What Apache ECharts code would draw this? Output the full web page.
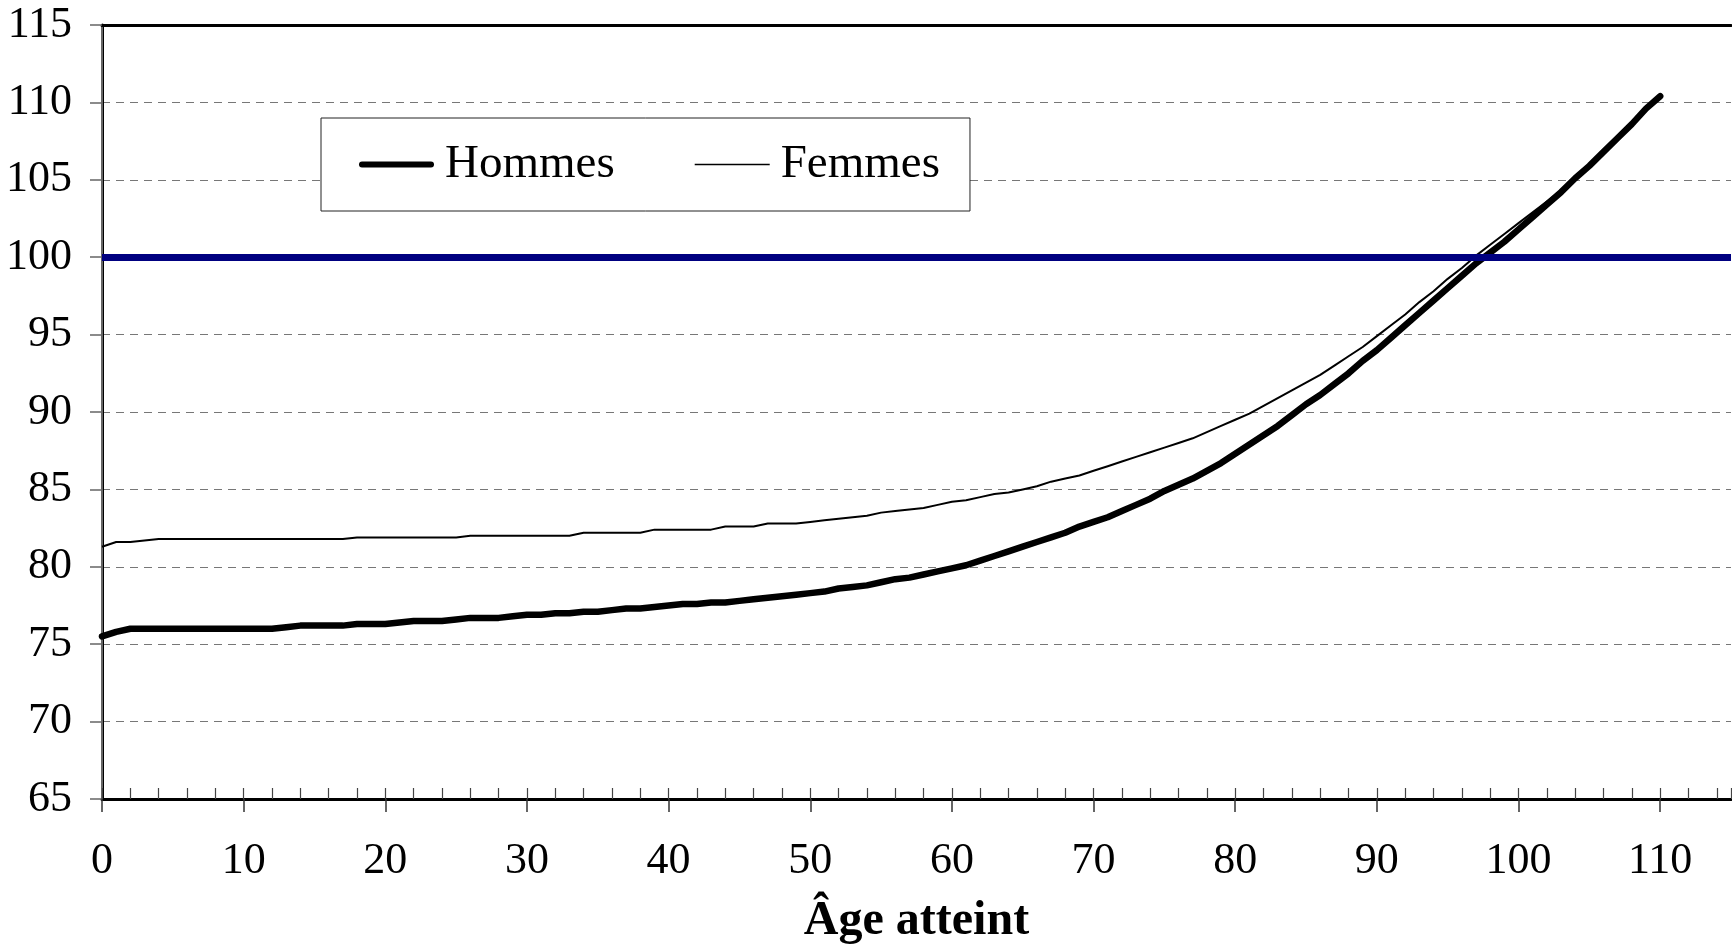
<!DOCTYPE html>
<html>
<head>
<meta charset="utf-8">
<script src="https://cdn.jsdelivr.net/npm/echarts@6/dist/echarts.min.js"></script>
<style>
  html, body { margin: 0; padding: 0; background: #fff; }
  #chart { width: 1732px; height: 951px; }
</style>
</head>
<body>
<div id="chart"></div>
<script>
// valeurs, une par âge (0 à 110)
const hommes = [
  75.5, 75.8, 76.0, 76.0, 76.0, 76.0, 76.0, 76.0, 76.0, 76.0,
  76.0, 76.0, 76.0, 76.1, 76.2, 76.2, 76.2, 76.2, 76.3, 76.3,
  76.3, 76.4, 76.5, 76.5, 76.5, 76.6, 76.7, 76.7, 76.7, 76.8,
  76.9, 76.9, 77.0, 77.0, 77.1, 77.1, 77.2, 77.3, 77.3, 77.4,
  77.5, 77.6, 77.6, 77.7, 77.7, 77.8, 77.9, 78.0, 78.1, 78.2,
  78.3, 78.4, 78.6, 78.7, 78.8, 79.0, 79.2, 79.3, 79.5, 79.7,
  79.9, 80.1, 80.4, 80.7, 81.0, 81.3, 81.6, 81.9, 82.2, 82.6,
  82.9, 83.2, 83.6, 84.0, 84.4, 84.9, 85.3, 85.7, 86.2, 86.7,
  87.3, 87.9, 88.5, 89.1, 89.8, 90.5, 91.1, 91.8, 92.5, 93.3,
  94.0, 94.8, 95.6, 96.4, 97.2, 98.0, 98.8, 99.6, 100.3, 101.0,
  101.8, 102.6, 103.4, 104.2, 105.1, 105.9, 106.8, 107.7, 108.6, 109.6,
  110.4
];
const femmes = [
  81.3, 81.6, 81.6, 81.7, 81.8, 81.8, 81.8, 81.8, 81.8, 81.8,
  81.8, 81.8, 81.8, 81.8, 81.8, 81.8, 81.8, 81.8, 81.9, 81.9,
  81.9, 81.9, 81.9, 81.9, 81.9, 81.9, 82.0, 82.0, 82.0, 82.0,
  82.0, 82.0, 82.0, 82.0, 82.2, 82.2, 82.2, 82.2, 82.2, 82.4,
  82.4, 82.4, 82.4, 82.4, 82.6, 82.6, 82.6, 82.8, 82.8, 82.8,
  82.9, 83.0, 83.1, 83.2, 83.3, 83.5, 83.6, 83.7, 83.8, 84.0,
  84.2, 84.3, 84.5, 84.7, 84.8, 85.0, 85.2, 85.5, 85.7, 85.9,
  86.2, 86.5, 86.8, 87.1, 87.4, 87.7, 88.0, 88.3, 88.7, 89.1,
  89.5, 89.9, 90.4, 90.9, 91.4, 91.9, 92.4, 93.0, 93.6, 94.2,
  94.9, 95.6, 96.3, 97.1, 97.8, 98.6, 99.3, 100.1, 100.8, 101.5,
  102.2, 102.9, 103.6, 104.3, 105.1, 105.9, 106.8, 107.7, 108.6, 109.6,
  110.4
];
const refLine = 100;
const xMin = 0, xMax = 115, yMin = 65, yMax = 115;

const fontFam = "'Liberation Serif', 'Times New Roman', serif";

// icônes de légende : trait épais arrondi / trait fin
const iconEpais = 'path://M3,0 L72,0 A3,3 0 0 1 72,6 L3,6 A3,3 0 0 1 3,0 Z';
const iconFin = 'path://M0,0 L75,0 L75,1.6 L0,1.6 Z';

const chart = echarts.init(document.getElementById('chart'));

const option = {
  animation: false,
  backgroundColor: '#fff',
  grid: { left: 102, right: 1, top: 25, bottom: 142 },
  legend: {
    data: [
      { name: 'Hommes', icon: iconEpais, itemStyle: { color: '#000', borderWidth: 0 } },
      { name: 'Femmes', icon: iconFin, itemStyle: { color: '#000', borderWidth: 0 } }
    ],
    left: 321,
    top: 118,
    orient: 'horizontal',
    padding: [23, 30, 23, 38],
    itemWidth: 75,
    itemHeight: 14,
    itemGap: 80,
    borderColor: '#222',
    borderWidth: 1,
    borderRadius: 0,
    backgroundColor: '#fff',
    selectedMode: false,
    textStyle: { fontFamily: fontFam, fontSize: 47, color: '#000', padding: [0, 0, 0, 6] }
  },
  xAxis: [
    {
      type: 'value', min: xMin, max: xMax, interval: 10, position: 'bottom',
      axisLine: { lineStyle: { color: '#000', width: 3 } },
      axisTick: { show: true, inside: false, length: 13, lineStyle: { color: '#333', width: 1.5 } },
      axisLabel: { fontFamily: fontFam, fontSize: 44, color: '#000', margin: 40, showMaxLabel: false },
      splitLine: { show: false },
      name: 'Âge atteint',
      nameLocation: 'middle',
      nameGap: 99,
      nameTextStyle: { fontFamily: fontFam, fontSize: 48, fontWeight: 'bold', color: '#000' }
    },
    {
      type: 'value', min: xMin, max: xMax, interval: 2, position: 'bottom',
      axisLine: { show: false },
      axisTick: { show: true, inside: true, length: 11, lineStyle: { color: '#444', width: 1.2 } },
      axisLabel: { show: false },
      splitLine: { show: false }
    },
    {
      type: 'value', min: xMin, max: xMax, position: 'top',
      axisLine: { lineStyle: { color: '#000', width: 3 } },
      axisTick: { show: false },
      axisLabel: { show: false },
      splitLine: { show: false }
    }
  ],
  yAxis: [
    {
      type: 'value', min: yMin, max: yMax, interval: 5, position: 'left',
      axisLine: { show: true, lineStyle: { color: '#000', width: 3 } },
      axisTick: { show: true, inside: false, length: 12, lineStyle: { color: '#666', width: 1.5 } },
      axisLabel: { fontFamily: fontFam, fontSize: 44, color: '#000', margin: 30 },
      splitLine: { show: true, lineStyle: { color: '#777', width: 1.2, type: [8, 6] } }
    },
    {
      type: 'value', min: yMin, max: yMax, position: 'right',
      axisLine: { show: true, lineStyle: { color: '#888', width: 1.5 } },
      axisTick: { show: false },
      axisLabel: { show: false },
      splitLine: { show: false }
    }
  ],
  series: [
    {
      name: 'ref',
      type: 'line',
      data: [],
      z: 1,
      silent: true,
      markLine: {
        silent: true,
        symbol: ['none', 'none'],
        label: { show: false },
        lineStyle: { color: '#000080', width: 7, type: 'solid' },
        data: [{ yAxis: refLine }]
      }
    },
    {
      name: 'Femmes',
      type: 'line',
      data: femmes.map((v, i) => [i, v]),
      symbol: 'none',
      z: 3,
      itemStyle: { color: '#000' },
      lineStyle: { color: '#000', width: 2 }
    },
    {
      name: 'Hommes',
      type: 'line',
      data: hommes.map((v, i) => [i, v]),
      symbol: 'none',
      z: 4,
      itemStyle: { color: '#000' },
      lineStyle: { color: '#000', width: 6.5, cap: 'round', join: 'round' }
    }
  ]
};

chart.setOption(option);
</script>
</body>
</html>
